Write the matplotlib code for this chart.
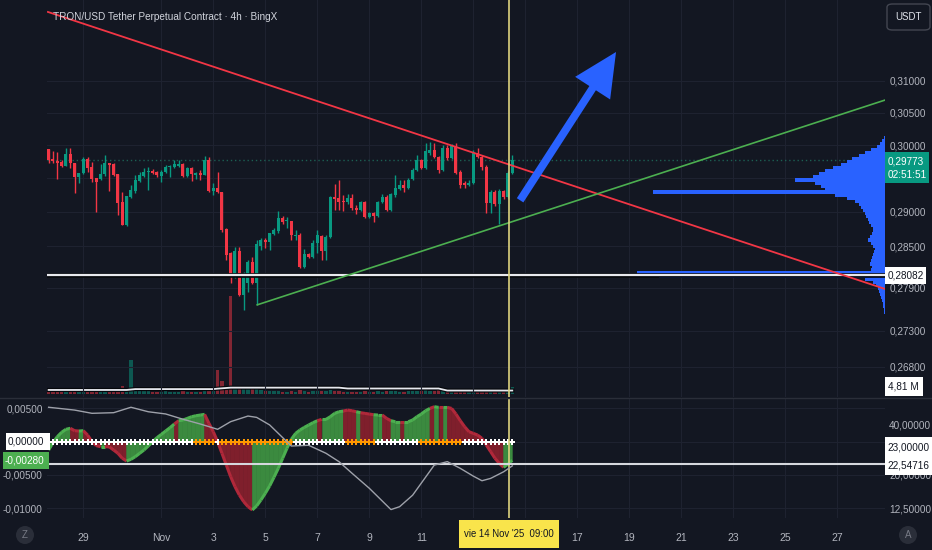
import numpy as np
import pandas as pd
import matplotlib
matplotlib.use('Agg')
import matplotlib.pyplot as plt
import matplotlib.patheffects as pe
import matplotlib.transforms as mtransforms
from matplotlib.collections import PolyCollection, LineCollection
from matplotlib.patches import Rectangle, FancyBboxPatch, Ellipse
from matplotlib.lines import Line2D
from matplotlib.ticker import NullLocator

plt.rcParams['font.family'] = ['Liberation Sans Narrow', 'Liberation Sans', 'DejaVu Sans']

# ---------------- data ----------------
title = 'TRON/USD Tether Perpetual Contract · 4h · BingX'
first_bar = '2025-10-27 16:00'
origin_day = '2025-11-01'

opens = [.29945, .29793, .29763, .29748, .29687, .29869, .29732, .29521, .29582, .29793,
         .29672, .29506, .29491, .29567, .29732, .29717, .29567, .29148, .28809, .29222,
         .29312, .29461, .29537, .29597, .29612, .29597, .29537, .29597, .29672, .29672,
         .29687, .29717, .29537, .29657, .29552, .29582, .29552, .29778, .29312, .29357,
         .29297, .28750, .28401, .28071, .28430, .27800, .27971, .28271, .27971, .28502,
         .28589, .28560, .28677, .28720, .28912, .28867, .28867, .28647, .28662, .28199,
         .28386, .28343, .28546, .28647, .28430, .28633, .29222, .29208, .29163, .29148,
         .29208, .29059, .29029, .29148, .28926, .28985, .28941, .29148, .29222, .29029,
         .29252, .29342, .29401, .29357, .29491, .29627, .29778, .29657, .29884, .29930,
         .29824, .29627, .29961, .29808, .29991, .29597, .29431, .29401, .29431, .29884,
         .29824, .29672, .29133, .29297, .29118, .29312, .29222, .29582]
highs = [.29945, .29915, .29900, .29778, .29961, .29961, .29732, .29582, .29824, .29824,
         .29748, .29506, .29717, .29854, .29732, .29732, .29567, .29297, .29237, .29401,
         .29552, .29597, .29657, .29672, .29642, .29612, .29627, .29702, .29702, .29778,
         .29778, .29732, .29672, .29672, .29597, .29627, .29839, .29824, .29431, .29597,
         .29297, .28765, .28415, .28488, .28488, .28128, .28300, .28343, .28589, .28618,
         .28618, .28691, .28765, .29014, .28941, .28926, .28867, .28735, .28691, .28459,
         .28401, .28589, .28735, .28662, .28662, .29237, .29416, .29476, .29252, .29267,
         .29267, .29103, .29163, .29163, .29000, .29000, .29163, .29267, .29252, .29282,
         .29552, .29476, .29476, .29506, .29657, .29854, .29793, .30037, .30052, .30037,
         .29839, .30006, .30006, .30022, .30037, .29627, .29461, .29476, .29930, .29961,
         .29854, .29702, .29327, .29327, .29342, .29327, .29612, .29854]
lows = [.29732, .29732, .29491, .29672, .29687, .29657, .29282, .29431, .29567, .29597,
        .29446, .29000, .29476, .29537, .29312, .29537, .28956, .28809, .28794, .29208,
        .29282, .29446, .29521, .29327, .29567, .29521, .29446, .29582, .29521, .29657,
        .29672, .29521, .29521, .29461, .29491, .29476, .29552, .29297, .29252, .29282,
        .28706, .28300, .27971, .28042, .27786, .27589, .27843, .27956, .27659, .28444,
        .28473, .28444, .28662, .28691, .28824, .28765, .28589, .28589, .28185, .28185,
        .28329, .28329, .28401, .28300, .28300, .28618, .29029, .29029, .29014, .29118,
        .29029, .28971, .29014, .28912, .28912, .28853, .28926, .29133, .29014, .29014,
        .29222, .29327, .29297, .29342, .29476, .29612, .29642, .29642, .29854, .29808,
        .29582, .29612, .29778, .29793, .29567, .29357, .29357, .29386, .29416, .29808,
        .29627, .28985, .28985, .29088, .28824, .29193, .29208, .29567]
closes = [.29778, .29763, .29732, .29687, .29869, .29732, .29521, .29582, .29793, .29657,
          .29491, .29446, .29567, .29732, .29702, .29552, .29133, .28809, .29237, .29327,
          .29476, .29552, .29597, .29612, .29582, .29552, .29597, .29672, .29687, .29717,
          .29717, .29537, .29657, .29567, .29582, .29552, .29778, .29312, .29357, .29297,
          .28735, .28372, .28071, .28430, .27800, .28099, .28271, .27971, .28531, .28589,
          .28560, .28691, .28735, .28912, .28853, .28882, .28662, .28662, .28199, .28386,
          .28343, .28546, .28662, .28430, .28633, .29222, .29193, .29148, .29148, .29208,
          .29059, .29029, .29148, .28926, .28985, .28941, .29148, .29222, .29029, .29267,
          .29357, .29401, .29357, .29476, .29627, .29778, .29657, .29915, .29930, .29824,
          .29627, .29961, .29808, .29991, .29582, .29401, .29401, .29431, .29884, .29824,
          .29672, .29133, .29297, .29118, .29312, .29222, .29582, .29773]
volumes_m = [2.1, 2.4, 3.4, 2.1, 1.8, 2.3, 2.8, 1.9, 2.0, 2.2,
             2.5, 3.5, 2.0, 2.3, 3.6, 2.6, 3.8, 5.6, 4.5, 23.5,
             3.0, 2.4, 2.0, 2.3, 1.7, 1.6, 1.8, 2.0, 1.6, 1.8,
             1.5, 2.2, 1.8, 1.9, 1.4, 1.6, 2.4, 3.0, 2.2, 16.6,
             9.0, 3.5, 67.6, 4.6, 5.0, 5.2, 3.8, 4.4, 4.2, 3.2,
             2.4, 2.2, 2.0, 2.6, 1.8, 1.6, 2.1, 1.5, 3.0, 2.2,
             1.7, 2.1, 2.0, 2.3, 2.2, 3.2, 2.2, 2.3, 1.6, 1.5,
             1.8, 1.4, 1.6, 2.0, 1.5, 1.6, 2.0, 1.8, 2.0, 2.4,
             2.6, 1.9, 1.9, 2.1, 2.3, 2.6, 2.0, 3.0, 2.5, 2.6,
             2.8, 3.0, 2.4, 2.2, 2.8, 2.6, 1.6, 1.5, 2.4, 2.0,
             2.2, 3.6, 2.8, 2.1, 3.0, 1.8, 2.4, 4.81]
vol_ma_idx = [0, 18, 20, 38, 39, 42, 67, 69, 90, 92, 107]
vol_ma_val = [3.0, 3.0, 3.6, 3.6, 3.9, 4.6, 4.6, 4.0, 4.0, 2.6, 2.6]

momentum = [-0.00125, -0.00015, 0.00075, 0.00141, 0.00186, 0.00201, 0.00165, 0.0016, 0.00165, 0.0010,
            0.0, -0.0006, -0.00075, -0.00075, -0.00078, -0.00125, -0.00175, -0.0025, -0.0029, -0.00265,
            -0.00225, -0.00175, -0.00125, -0.00065, 0.0, 0.0006, 0.0011, 0.0016, 0.0021, 0.00265,
            0.00315, 0.00325, 0.0035, 0.00375, 0.0039, 0.004, 0.0041, 0.00275, 0.0015, 0.0,
            -0.00175, -0.0035, -0.00525, -0.00675, -0.008, -0.009, -0.00975, -0.01025, -0.00965, -0.00875,
            -0.00775, -0.00665, -0.00535, -0.004, -0.0025, -0.001, 0.00035, 0.00125, 0.00175, 0.00215,
            0.0025, 0.00285, 0.00315, 0.00335, 0.00335, 0.00375, 0.00425, 0.0045, 0.0046, 0.00475,
            0.00465, 0.0045, 0.00435, 0.00425, 0.00415, 0.00405, 0.004, 0.004, 0.0035, 0.00315,
            0.003, 0.003, 0.003, 0.003, 0.00325, 0.00375, 0.00415, 0.00465, 0.005, 0.00525,
            0.00515, 0.00515, 0.00515, 0.005, 0.00415, 0.00315, 0.00225, 0.0015, 0.00125, 0.001,
            0.0005, -0.0005, -0.0015, -0.0025, -0.00325, -0.00385, -0.00335, -0.0028]
momentum_up = [1, 1, 1, 1, 1, 1, 0, 0, 1, 0,
               0, 0, 0, 1, 0, 0, 0, 0, 0, 1,
               1, 1, 1, 1, 1, 1, 1, 1, 1, 1,
               0, 1, 1, 1, 1, 1, 1, 0, 0, 0,
               0, 0, 0, 0, 0, 0, 0, 0, 1, 1,
               1, 1, 1, 1, 1, 1, 1, 1, 1, 1,
               1, 1, 1, 0, 1, 1, 1, 1, 1, 0,
               0, 0, 1, 0, 0, 0, 1, 1, 0, 0,
               1, 1, 0, 1, 1, 1, 1, 1, 1, 0,
               1, 0, 1, 0, 0, 0, 0, 0, 0, 0,
               0, 0, 0, 0, 0, 0, 1, 1]
squeeze_on = [0] * 34 + [1] * 5 + [0] + [1] * 17 + [0] * 12 + [1] * 7 + [0] * 10 + [1] * 10 + [0] * 12
adx_idx = [0, 6, 10, 15, 19, 23, 27, 31, 35, 39, 42, 46, 48, 51, 53, 56, 60, 64, 67, 70,
           74, 79, 81, 84, 89, 92, 95, 98, 100, 102, 105, 107]
adx_val = [50.3, 48.4, 46.3, 46.7, 50.3, 47.3, 45.9, 42.7, 40.0, 37.2, 41.3, 44.6, 43.8, 39.5, 35.2, 29.6,
           29.9, 26.8, 23.9, 20.4, 16.6, 12.4, 12.9, 15.1, 22.8, 23.9, 21.8, 19.6, 18.4, 19.0, 20.8, 22.547]
adx_level = 23.0

profile_prices = [.30113, .30067, .30021, .29975, .29930, .29884, .29838, .29793, .29748, .29702,
                  .29657, .29612, .29566, .29521, .29476, .29431, .29386, .29341, .29297, .29252,
                  .29207, .29163, .29118, .29074, .29029, .28985, .28941, .28897, .28852, .28808,
                  .28765, .28721, .28677, .28633, .28589, .28546, .28502, .28459, .28415, .28372,
                  .28328, .28285, .28242, .28199, .28156, .28113, .28070, .28027, .27985, .27942,
                  .27899, .27857, .27814, .27772, .27729, .27687, .27645, .27603, .27561]
profile_volume = [1, 3, 5, 8, 14, 20, 26, 33, 38, 44,
                  52, 60, 66, 72, 90, 70, 64, 60, 232, 50,
                  38, 30, 26, 24, 22, 20, 19, 17, 16, 14,
                  12, 12, 13, 15, 17, 14, 12, 10, 11, 12,
                  13, 14, 15, 13, 14, 248, 226, 20, 12, 9,
                  7, 6, 5, 4, 3, 2, 2, 1, 1]

red_trend_days = [-4.36, 27.84]
red_trend_prices = [0.32109, 0.27885]
green_trend_days = [3.69, 27.84]
green_trend_prices = [0.27661, 0.30701]
arrow_days = [13.80, 17.49]
arrow_prices = [0.29173, 0.31461]
marker_day = 13.375
last_price = 0.29773
level_price = 0.28082

price_ticks = [0.268, 0.273, 0.279, 0.285, 0.290, 0.295, 0.300, 0.305, 0.310]
price_tick_labels = ['0,26800', '0,27300', '0,27900', '0,28500', '0,29000', '', '0,30000', '0,30500', '0,31000']
mom_ticks = [-0.010, -0.005, 0.0, 0.005]
mom_tick_labels = ['-0,01000', '-0,00500', '', '0,00500']
adx_ticks = [12.5, 20.0, 40.0]
adx_tick_labels = ['12,50000', '20,00000', '40,00000']
day_ticks = ['2025-10-29', '2025-11-01', '2025-11-03', '2025-11-05', '2025-11-07', '2025-11-09',
             '2025-11-11', '2025-11-13', '2025-11-15', '2025-11-17', '2025-11-19', '2025-11-21',
             '2025-11-23', '2025-11-25', '2025-11-27']
day_labels = ['29', 'Nov', '3', '5', '7', '9', '11', '', '', '17', '19', '21', '23', '25', '27']

# ---------------- style ----------------
BG = '#131722'
GRID = '#1e2230'
TXT = '#b2b5be'
UP = '#089981'
DN = '#f23645'
FS = 7.2
W, H = 932, 550
L_PX, R_PX = 47, 885
main_bottom, osc_top, osc_bottom = 397, 398, 518

fig = plt.figure(figsize=(W / 100, H / 100), dpi=100, facecolor=BG)


def fx(px):
    return px / W


def fy(py):
    return 1 - py / H


ax = fig.add_axes([fx(L_PX), fy(main_bottom), (R_PX - L_PX) / W, main_bottom / H])
osc = fig.add_axes([fx(L_PX), fy(osc_bottom), (R_PX - L_PX) / W, (osc_bottom - osc_top) / H], sharex=ax)
for a in (ax, osc):
    a.set_facecolor(BG)
    for s in a.spines.values():
        s.set_visible(False)

times = pd.date_range(first_bar, periods=len(opens), freq='4h')
x = ((times - pd.Timestamp(origin_day)) / pd.Timedelta(days=1)).to_numpy()
o, hi, lo, c = map(np.array, (opens, highs, lows, closes))
up = c >= o
cols = np.where(up, UP, DN)
day_pos = ((pd.to_datetime(day_ticks) - pd.Timestamp(origin_day)) / pd.Timedelta(days=1)).to_numpy()

# ---- volume overlay ----
vax = ax.twinx()
ax.set_zorder(vax.get_zorder() + 1)
ax.patch.set_visible(False)
vax.bar(x, volumes_m, width=0.72 / 6, color=cols, alpha=0.5, linewidth=0)
vax.plot(x[vol_ma_idx], vol_ma_val, color='#e6e8ee', lw=1.3,
         path_effects=[pe.Stroke(linewidth=3.0, foreground='#05070b'), pe.Normal()])
vax.set_ylim(-1.86, 272)
vax.set_yticks([])
for s in vax.spines.values():
    s.set_visible(False)

# ---- main price axes ----
ax.set_yscale('log')
ax.set_ylim(0.26393, 0.32305)
ax.set_xlim(-4.396, 27.835)
ax.set_yticks(price_ticks, labels=price_tick_labels)
ax.yaxis.set_minor_locator(NullLocator())
ax.yaxis.tick_right()
ax.tick_params(axis='y', length=0, pad=3, labelsize=FS, labelcolor=TXT)
ax.tick_params(axis='x', length=0, labelbottom=False)
ax.set_xticks(day_pos)
ax.grid(True, color=GRID, lw=0.8, zorder=0)
ax.set_axisbelow(True)

# volume profile (anchored to right edge)
blend = mtransforms.blended_transform_factory(ax.transAxes, ax.transData)
axw = R_PX - L_PX
rows = []
for p, v in zip(profile_prices, profile_volume):
    w = v / axw
    hgt = p * 0.00082
    rows.append([(1 - w, p - hgt), (1, p - hgt), (1, p + hgt), (1 - w, p + hgt)])
ax.add_collection(PolyCollection(rows, facecolors='#2962ff', edgecolors='none',
                                 transform=blend, zorder=2), autolim=False)

# current price dotted line
ax.axhline(last_price, color='#1c5f53', lw=1, ls=(0, (1, 2)), zorder=1)

# candles
ax.vlines(x, lo, hi, colors=cols, lw=1, zorder=3)
ax.bar(x, np.maximum(np.abs(c - o), 0.00004), bottom=np.minimum(o, c), width=0.7 / 6,
       color=cols, linewidth=0, zorder=4)

# drawings
ax.axhline(level_price, color='#e8e9ee', lw=1.6, zorder=5,
           path_effects=[pe.Stroke(linewidth=3.4, foreground='#06080c'), pe.Normal()])
ax.plot(red_trend_days, red_trend_prices, color='#f23645', lw=1.3, zorder=5)
ax.plot(green_trend_days, green_trend_prices, color='#4caf50', lw=1.2, zorder=5)
ax.annotate('', xy=(arrow_days[1], arrow_prices[1]), xytext=(arrow_days[0], arrow_prices[0]),
            arrowprops=dict(arrowstyle='simple,head_length=1.55,head_width=1.5,tail_width=0.28',
                            color='#2962ff', mutation_scale=20, shrinkA=0, shrinkB=0, lw=0),
            zorder=6)
ax.axvline(marker_day, color='#ddd37e', lw=1.2, zorder=7)

# ---- oscillator ----
m = np.array(momentum)
osc.set_ylim(-0.01146, 0.00656)
polys, fcols, segs, ecols = [], [], [], []
for i in range(1, len(m)):
    polys.append([(x[i - 1], 0), (x[i - 1], m[i - 1]), (x[i], m[i]), (x[i], 0)])
    g = momentum_up[i] == 1
    fcols.append('#3b8a3f' if g else '#7f1f2c')
    segs.append([(x[i - 1], m[i - 1]), (x[i], m[i])])
    ecols.append('#4caf50' if g else '#b0283a')
osc.add_collection(PolyCollection(polys, facecolors=fcols, edgecolors=fcols, linewidths=0.4, zorder=2))
osc.add_collection(LineCollection(segs, colors=ecols, linewidths=2.2, zorder=3))
cross_cols = ['#ff9800' if s else '#ffffff' for s in squeeze_on]
osc.scatter(x, np.zeros_like(x), marker='P', s=17, c=cross_cols, linewidths=0, zorder=6)
osc.set_yticks(mom_ticks, labels=mom_tick_labels)
osc.tick_params(axis='y', length=0, pad=3, labelsize=FS, labelcolor=TXT)
osc.set_xticks(day_pos, labels=day_labels)
osc.tick_params(axis='x', length=0, pad=11, labelsize=FS + 0.3, labelcolor=TXT)
osc.grid(True, color=GRID, lw=0.8, zorder=0)
osc.set_axisbelow(True)
osc.axvline(marker_day, color='#ddd37e', lw=1.2, zorder=7)

aax = osc.twinx()
aax.set_yscale('log')
aax.set_ylim(11.05, 57.1)
aax.set_yticks(adx_ticks, labels=adx_tick_labels)
aax.yaxis.set_minor_locator(NullLocator())
aax.tick_params(axis='y', length=0, pad=3, labelsize=FS, labelcolor=TXT)
for s in aax.spines.values():
    s.set_visible(False)
aax.axhline(adx_level, color='#d6d8de', lw=1.5, zorder=4)
aax.plot(x[adx_idx], adx_val, color='#9ea1aa', lw=1.0, zorder=5)

# ---------------- overlays in figure pixel space ----------------
def box(x0, y0, x1, y1, fc, ec='none', lw=0, rounded=False):
    if rounded:
        p = FancyBboxPatch((fx(x0), fy(y1)), (x1 - x0) / W, (y1 - y0) / H,
                           boxstyle='round,pad=0,rounding_size=0.006', transform=fig.transFigure,
                           fc=fc, ec=ec, lw=lw, zorder=10)
    else:
        p = Rectangle((fx(x0), fy(y1)), (x1 - x0) / W, (y1 - y0) / H, transform=fig.transFigure,
                      fc=fc, ec=ec, lw=lw, zorder=10)
    fig.add_artist(p)


def label(px, py, s, color, size=FS, ha='left', weight='normal'):
    fig.text(fx(px), fy(py), s, color=color, fontsize=size, ha=ha, va='center',
             fontweight=weight, zorder=11)


fig.add_artist(Line2D([0, 1], [fy(397.8), fy(397.8)], transform=fig.transFigure,
                      color='#2a2e39', lw=1, zorder=9))

label(53, 17, title, '#d1d4dc', size=7.2)

box(887, 4, 930, 30, BG, ec='#434651', lw=1, rounded=True)
label(908.5, 17, 'USDT', '#e0e3eb', size=7, ha='center')

box(885, 152, 929, 183, UP)
label(888, 161, '0,29773', 'white')
label(888, 175, '02:51:51', 'white')

box(885, 267, 926, 284, 'white')
label(888, 275.5, '0,28082', '#131722')

box(885, 377, 923, 396, 'white')
label(888, 386.5, '4,81 M', '#131722')

box(6, 433, 50, 450, 'white')
label(8, 441.5, '0,00000', '#131722')
box(3, 452, 49, 469, '#4caf50')
label(5, 460.5, '-0,00280', 'white')

box(885, 437, 932, 475, 'white')
label(887, 448, '23,00000', '#131722')
label(887, 465, '22,54716', '#131722')

box(459, 520, 559, 548, '#f9e44b')
label(509, 534, "vie 14 Nov '25  09:00", '#131722', size=6.9, ha='center')

for cx, letter in ((25, 'Z'), (908, 'A')):
    fig.add_artist(Ellipse((fx(cx), fy(535)), 18 / W, 18 / H, transform=fig.transFigure,
                           fc='#2a2e39', ec='none', zorder=10))
    label(cx, 535.5, letter, '#787b86', size=7, ha='center')

fig.savefig('out.png', dpi=100, facecolor=BG)
